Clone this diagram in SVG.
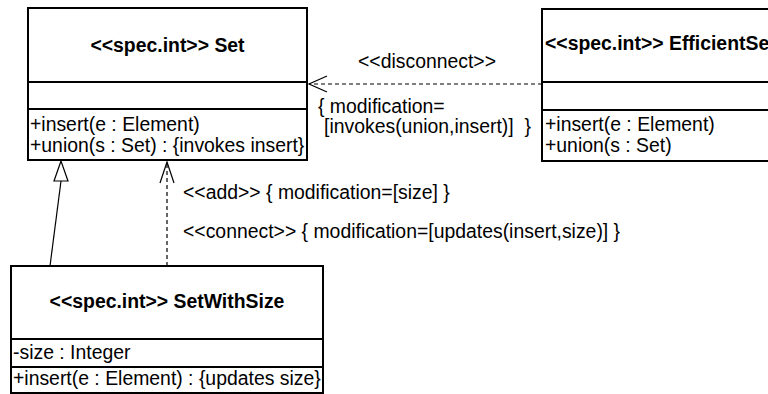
<svg xmlns="http://www.w3.org/2000/svg" width="768" height="394" viewBox="0 0 768 394">
<style>
.box{fill:#fff;stroke:#000;stroke-width:2}
.sep{stroke:#000;stroke-width:2}
.t{font-family:"Liberation Sans",Arial,Helvetica,sans-serif;font-size:19.4px;fill:#000}
.b{font-weight:bold}
.c{stroke:#000;stroke-width:1.2;fill:none}
.d{stroke-dasharray:4,3}
</style>
<rect width="768" height="394" fill="#fff"/>
<g id="connectors">
  <line class="c d" x1="542" y1="84" x2="309" y2="84"/>
  <polyline class="c" points="327,76 309,84 327,92"/>
  <line class="c" x1="50" y1="266" x2="61" y2="181"/>
  <polygon class="c" points="61,161 54,181 68,181" fill="#fff"/>
  <line class="c d" x1="167" y1="266" x2="167" y2="162"/>
  <polyline class="c" points="160,183 167,162 174,183"/>
  <text class="t" x="358" y="68">&lt;&lt;disconnect&gt;&gt;</text>
  <text class="t" x="318" y="113">{ modification=</text>
  <text class="t" x="324" y="133" xml:space="preserve">[invokes(union,insert)]  }</text>
  <text class="t" x="183" y="199">&lt;&lt;add&gt;&gt; { modification=[size] }</text>
  <text class="t" x="183" y="238">&lt;&lt;connect&gt;&gt; { modification=[updates(insert,size)] }</text>
</g>
<g id="Set">
  <rect class="box" x="28" y="8" width="279" height="152"/>
  <line class="sep" x1="28" y1="82" x2="307" y2="82"/>
  <line class="sep" x1="28" y1="109" x2="307" y2="109"/>
  <text class="t b" x="167.5" y="52" text-anchor="middle">&lt;&lt;spec.int&gt;&gt; Set</text>
  <text class="t" x="30" y="131">+insert(e : Element)</text>
  <text class="t" x="30" y="152">+union(s : Set) : {invokes insert}</text>
</g>
<g id="EfficientSet">
  <rect class="box" x="542" y="9" width="260" height="152"/>
  <line class="sep" x1="542" y1="82" x2="768" y2="82"/>
  <line class="sep" x1="542" y1="110" x2="768" y2="110"/>
  <text class="t b" x="545" y="50">&lt;&lt;spec.int&gt;&gt; EfficientSe</text>
  <text class="t" x="545" y="131">+insert(e : Element)</text>
  <text class="t" x="545" y="152">+union(s : Set)</text>
</g>
<g id="SetWithSize">
  <rect class="box" x="11" y="266" width="312" height="127"/>
  <line class="sep" x1="11" y1="339" x2="323" y2="339"/>
  <line class="sep" x1="11" y1="367" x2="323" y2="367"/>
  <text class="t b" x="167" y="308" text-anchor="middle">&lt;&lt;spec.int&gt;&gt; SetWithSize</text>
  <text class="t" x="13" y="359">-size : Integer</text>
  <text class="t" x="13" y="385">+insert(e : Element) : {updates size}</text>
</g>
</svg>
